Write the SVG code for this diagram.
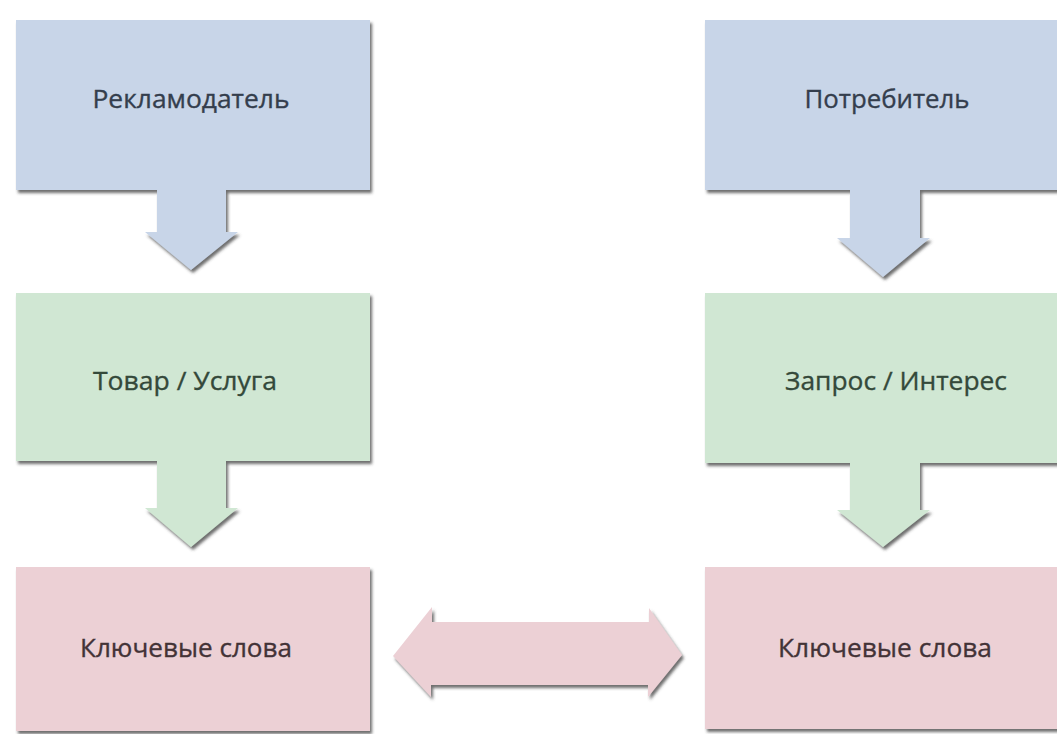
<svg xmlns="http://www.w3.org/2000/svg" width="1057" height="734" viewBox="0 0 1057 734">
  <defs>
    <filter id="shadow" x="-10%" y="-10%" width="120%" height="125%">
      <feDropShadow dx="2" dy="3" stdDeviation="1.6" flood-color="#3c3c3c" flood-opacity="0.75"/>
    </filter>
    <style>
      .blue { fill: #c8d5e8; filter: url(#shadow); }
      .green { fill: #d0e7d3; filter: url(#shadow); }
      .pink { fill: #ecd0d5; filter: url(#shadow); }
      .label { font-family: "Open Sans", "Noto Sans", sans-serif; font-size: 26px; font-weight: 500; text-anchor: middle; stroke-width: 0.35px; }
      .tb { fill: #343e4d; stroke: #343e4d; }
      .tg { fill: #34493a; stroke: #34493a; }
      .tp { fill: #433337; stroke: #433337; }
    </style>
  </defs>
  <rect width="1057" height="734" fill="#ffffff"/>

  <!-- left column -->
  <g id="advertiser">
    <path class="blue" d="M16 20 H370 V190 H226 V232 H238 L191 270 L145 232 H157 V190 H16 Z"/>
    <text class="label tb" x="191" y="108" textLength="197" lengthAdjust="spacingAndGlyphs">Рекламодатель</text>
  </g>
  <g id="product">
    <path class="green" d="M16 293 H370 V461 H226 V508 H238 L191 547 L145 508 H157 V461 H16 Z"/>
    <text class="label tg" x="185" y="390" textLength="184" lengthAdjust="spacingAndGlyphs">Товар / Услуга</text>
  </g>
  <g id="keywords-left">
    <rect class="pink" x="16" y="567" width="354" height="164"/>
    <text class="label tp" x="186" y="657" textLength="212" lengthAdjust="spacingAndGlyphs">Ключевые слова</text>
  </g>

  <!-- right column -->
  <g id="consumer">
    <path class="blue" d="M705 20 H1062 V190 H920 V238 H930 L883 277 L837 238 H850 V190 H705 Z"/>
    <text class="label tb" x="887" y="108" textLength="165" lengthAdjust="spacingAndGlyphs">Потребитель</text>
  </g>
  <g id="request">
    <path class="green" d="M705 293 H1062 V463 H920 V510 H930 L883 547 L837 510 H850 V463 H705 Z"/>
    <text class="label tg" x="896" y="390" textLength="222" lengthAdjust="spacingAndGlyphs">Запрос / Интерес</text>
  </g>
  <g id="keywords-right">
    <rect class="pink" x="705" y="567" width="357" height="162"/>
    <text class="label tp" x="885" y="657" textLength="214" lengthAdjust="spacingAndGlyphs">Ключевые слова</text>
  </g>

  <!-- two-way link between the keyword sets -->
  <g id="connectors">
    <path class="pink" d="M393 656 L432 607 V622 H649 V608 L682 655 L648 697 V685 H431 V697 Z"/>
  </g>
</svg>
